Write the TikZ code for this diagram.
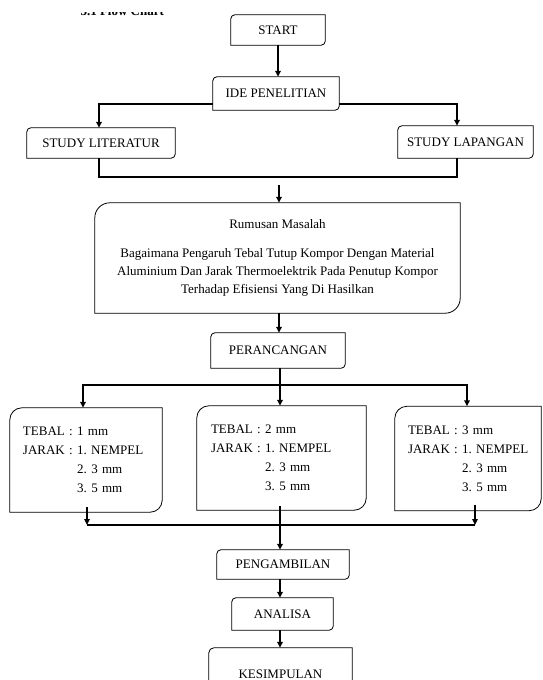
\documentclass[tikz,border=0pt]{standalone}
\usepackage{fontspec}
\setmainfont{Liberation Serif}
\usetikzlibrary{arrows.meta,positioning}
\frenchspacing

\begin{document}
\begin{tikzpicture}[x=1pt,y=1pt,node distance=60pt]
\tikzstyle{box}=[rectangle,inner sep=0pt,font=\fontsize{13pt}{18pt}\selectfont]
\tikzstyle{param}=[box,align=left,minimum height=104pt,font=\fontsize{13pt}{19pt}\selectfont]
\tikzstyle{line}=[line width=1.6pt]
\tikzstyle{arrow}=[line,-{Triangle[length=6pt,width=5.5pt]}]
\useasboundingbox (0,0) rectangle (542,-680);

% judul terpotong di atas
\begin{scope}
\clip (60,-12) rectangle (200,-20);
\node [anchor=base west,font=\bfseries\fontsize{13pt}{15pt}\selectfont] (judul) at (77,-15.5) {3.1 Flow Chart};
\end{scope}

\node [box,minimum width=94pt,minimum height=30pt] (start) at (278,-30) {START};
\node [box,minimum width=126pt,minimum height=33pt,below of=start,node distance=63.5pt,xshift=-2pt] (ide) {IDE PENELITIAN};
\node [box,minimum width=148pt,minimum height=30pt,below of=ide,node distance=49.5pt,xshift=-175pt] (lit) {STUDY LITERATUR};
\node [box,minimum width=135pt,minimum height=32pt,below of=ide,node distance=48.5pt,xshift=189.5pt] (lap) {STUDY LAPANGAN};
\node [box,align=center,minimum width=365pt,minimum height=110pt,below of=ide,node distance=164.5pt,xshift=1.5pt] (rumusan) {Rumusan Masalah\\[11pt]Bagaimana Pengaruh Tebal Tutup Kompor Dengan Material\\Aluminium Dan Jarak Thermoelektrik Pada Penutup Kompor\\Terhadap Efisiensi Yang Di Hasilkan};
\node [box,minimum width=134pt,minimum height=35pt,below of=rumusan,node distance=92.5pt,xshift=0.5pt] (perancangan) {PERANCANGAN};
\node [param,text width=141pt,inner xsep=14pt,below of=perancangan,node distance=107.5pt,xshift=3.5pt] (tebal2) {TEBAL : 2 mm\\JARAK : 1. NEMPEL\\\hphantom{JARAK : }2. 3 mm\\\hphantom{JARAK : }3. 5 mm};
\node [param,text width=126pt,inner xsep=13pt,left of=tebal2,node distance=195.5pt,yshift=-2pt] (tebal1) {TEBAL : 1 mm\\JARAK : 1. NEMPEL\\\hphantom{JARAK : }2. 3 mm\\\hphantom{JARAK : }3. 5 mm};
\node [param,text width=126pt,inner xsep=10pt,right of=tebal2,node distance=186.5pt,yshift=-0.5pt,xshift=0pt] (tebal3) {\hspace*{3pt}TEBAL : 3 mm\\\hspace*{3pt}JARAK : 1. NEMPEL\\\hspace*{3pt}\hphantom{JARAK : }2. 3 mm\\\hspace*{3pt}\hphantom{JARAK : }3. 5 mm};
\node [box,minimum width=132pt,minimum height=29pt,below of=tebal2,node distance=106.5pt,xshift=1.5pt] (pengambilan) {PENGAMBILAN};
\node [box,minimum width=101pt,minimum height=32pt,below of=pengambilan,node distance=49.5pt,xshift=-0.5pt] (analisa) {ANALISA};
\node [box,minimum width=143pt,minimum height=52pt,below of=analisa,node distance=60pt,xshift=-2pt] (kesimpulan) {KESIMPULAN};

% kotak dengan sudut kiri atas dan kanan bawah membulat
\foreach \n/\r in {start/4pt,ide/4pt,lit/4pt,lap/4pt,rumusan/15pt,perancangan/4pt,tebal1/12pt,tebal2/12pt,tebal3/12pt,pengambilan/4pt,analisa/4pt,kesimpulan/5pt}
  \draw[line width=0.8pt] ([xshift=\r]\n.north west) -- (\n.north east) -- ([yshift=\r]\n.south east)
    arc[start angle=0,end angle=-90,radius=\r] -- (\n.south west) -- ([yshift=-\r]\n.north west)
    arc[start angle=180,end angle=90,radius=\r] -- cycle;

\coordinate (merge) at (279,-177);
\coordinate (split) at (280,-385);
\coordinate (collect) at (280,-525);

\draw[arrow] (start.south) -- (start.south |- ide.north);
\draw[arrow] ([yshift=-10.5pt]ide.west) -| ([xshift=-2pt]lit.north);
\draw[arrow] ([yshift=-10.5pt]ide.east) -| ([xshift=-8.5pt]lap.north);
\draw[line] ([xshift=-2pt]lit.south) |- (merge) -| ([xshift=-8.5pt]lap.south);
\draw[arrow] ([yshift=-8pt]merge) -- (merge |- rumusan.north);
\draw[arrow] (rumusan.south -| merge) -- (merge |- perancangan.north);
\draw[line] (perancangan.south -| split) -- (split);
\draw[arrow] (split) -| ([xshift=-3pt]tebal1.north);
\draw[arrow] (split) -- (split |- tebal2.north);
\draw[arrow] (split) -| ([xshift=-1pt]tebal3.north);
\draw[line] ([xshift=1pt]tebal1.south |- collect) -- ([xshift=7pt]tebal3.south |- collect);
\draw[arrow] ([xshift=1pt,yshift=5pt]tebal1.south) -- ([xshift=1pt]tebal1.south |- collect);
\draw[arrow] ([xshift=7pt,yshift=6pt]tebal3.south) -- ([xshift=7pt]tebal3.south |- collect);
\draw[arrow] ([yshift=4pt]tebal2.south -| collect) -- (collect |- pengambilan.north);
\draw[arrow] (pengambilan.south -| collect) -- (collect |- analisa.north);
\draw[arrow] (analisa.south -| collect) -- (collect |- kesimpulan.north);
\end{tikzpicture}
\end{document}
